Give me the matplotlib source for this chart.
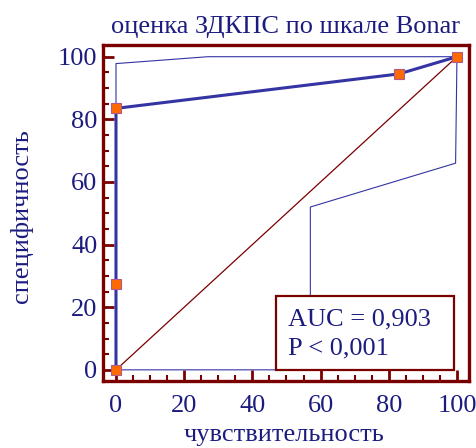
import matplotlib
matplotlib.use("Agg")
import matplotlib.pyplot as plt
from matplotlib.patches import Rectangle
from matplotlib.ticker import MultipleLocator

plt.rcParams['font.family'] = ['Liberation Serif', 'DejaVu Serif']

# ROC curve points
roc_x = [0, 0, 0, 83, 100]
roc_y = [0, 27.5, 83.5, 94.5, 100]
# confidence bounds
upper_x = [0, 0, 27, 100]
upper_y = [0, 97.8, 100, 100]
lower_x = [0, 57, 57, 99.6, 100]
lower_y = [0, 0, 52, 66, 100]
diag_x = [0, 100]
diag_y = [0, 100]

title = "оценка ЗДКПС по шкале Bonar"
xlabel = "чувствительность"
ylabel = "специфичность"
auc_lines = ["AUC = 0,903", "P < 0,001"]

navy = "#1c1c80"
maroon = "#7a0000"
line_blue = "#3434a4"
fs = 19

fig = plt.figure(figsize=(4.77, 4.48), dpi=100)
ax = fig.add_axes([0.216, 0.150, 0.767, 0.750])

ax.plot(diag_x, diag_y, color=maroon, lw=0.9, zorder=2)
ax.plot(upper_x, upper_y, color=line_blue, lw=0.8, zorder=2)
ax.plot(lower_x, lower_y, color=line_blue, lw=0.8, zorder=2)
ax.plot(roc_x, roc_y, color=line_blue, lw=2.2, zorder=3,
        marker='s', markersize=6.8, markerfacecolor='#ff6a00',
        markeredgecolor='#b05a8a', markeredgewidth=0.8)

ax.add_patch(Rectangle((47, 0), 52, 23.6, facecolor='white',
                       edgecolor=maroon, lw=1.6, zorder=4))
ax.text(50.4, 14.1, auc_lines[0], fontsize=fs, color=navy, va='baseline',
        ha='left', zorder=5)
ax.text(50.4, 4.8, auc_lines[1], fontsize=fs, color=navy, va='baseline',
        ha='left', zorder=5)

ax.set_xlim(-3.8, 103.5)
ax.set_ylim(-3.5, 103.8)
ax.xaxis.set_major_locator(MultipleLocator(20))
ax.xaxis.set_minor_locator(MultipleLocator(5))
ax.yaxis.set_major_locator(MultipleLocator(20))
ax.yaxis.set_minor_locator(MultipleLocator(5))
ax.tick_params(which='major', direction='in', length=8, width=2,
               color=maroon, labelsize=fs, labelcolor=navy)
ax.tick_params(axis='x', which='major', pad=10)
ax.tick_params(axis='y', which='major', pad=4)
ax.tick_params(which='minor', direction='in', length=4, width=1.5,
               color=maroon)
for s in ax.spines.values():
    s.set_color(maroon)
    s.set_linewidth(2.4)

ax.text(0.5, 1.036, title, transform=ax.transAxes, fontsize=fs,
        color=navy, ha='center', va='baseline')
ax.set_xlabel(xlabel, fontsize=fs, color=navy, va='baseline')
ax.xaxis.set_label_coords(0.495, -0.180)
ax.set_ylabel(ylabel, fontsize=fs, color=navy, va='center')
ax.yaxis.set_label_coords(-0.222, 0.49)

fig.savefig("out.png", dpi=100)
